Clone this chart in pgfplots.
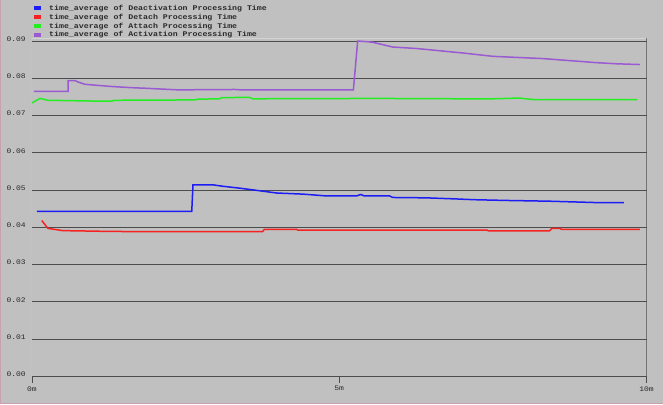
\documentclass[border=0pt]{standalone}
\usepackage{pgfplots}
\pgfplotsset{compat=1.18}
\usepackage{fontspec}
\newfontfamily\legfont[FakeStretch=1.15]{Liberation Mono}
\definecolor{bg}{HTML}{C0C0C0}
\definecolor{gridc}{HTML}{4C4C4C}
\definecolor{txt}{HTML}{2A2A2A}
\definecolor{edge}{HTML}{C8A0B0}
\definecolor{lightframe}{HTML}{D4D4D4}
\definecolor{cdeact}{HTML}{1C1CF5}
\definecolor{cdetach}{HTML}{F52222}
\definecolor{cattach}{HTML}{22EE22}
\definecolor{cact}{HTML}{9A5AD2}
\begin{document}
\begin{tikzpicture}
% page = 663 x 404, axis box 615 x 338
\fill[bg] (-32bp,-28bp) rectangle (631bp,376bp);
\draw[edge, line width=1bp] (-31.5bp,376bp) -- (-31.5bp,-27.5bp) -- (631bp,-27.5bp);
\useasboundingbox (-32bp,-28bp) rectangle (631bp,376bp);
\begin{axis}[
    scale only axis,
    width=615bp, height=338bp,
    xmin=0, xmax=10, ymin=0, ymax=0.0907,
    axis line style={draw=none},
    scaled y ticks=false,
    xtick={0,5,10}, xticklabels={0m,5m,10m},
    xtick pos=lower, tick align=outside, major tick length=7bp,
    x tick style={gridc, line width=0.9bp},
    ytick={0,0.01,0.02,0.03,0.04,0.05,0.06,0.07,0.08,0.09},
    yticklabels={0.00,0.01,0.02,0.03,0.04,0.05,0.06,0.07,0.08,0.09},
    y tick style={draw=none},
    ymajorgrids, major grid style={gridc, line width=0.9bp},
    xticklabel style={font=\legfont\fontsize{7}{8}\selectfont, text=txt, inner sep=3bp},
    yticklabel style={font=\legfont\fontsize{7}{8}\selectfont, text=txt, anchor=east, yshift=2bp, xshift=1bp, inner sep=0pt},
    legend style={at={(rel axis cs:0,1)}, anchor=south west, xshift=2bp, yshift=-0.5bp,
        draw=none, fill=none, inner sep=0pt, row sep=1.5bp,
        font=\legfont\bfseries\fontsize{7.2}{7.5}\selectfont, text=txt,
        nodes={inner sep=0.3bp}},
    legend cell align=left,
    legend image code/.code={\fill[draw=none,#1] (0bp,-2bp) rectangle (6.5bp,2bp);
        \path (14bp,0bp);},
    every axis plot/.append style={line width=1.5bp},
]
\addplot[color=cdeact] coordinates {
(0.08,0.0443) (2.60,0.0443) (2.62,0.0514) (2.94,0.0514) (3.11,0.0510) (3.38,0.0505)
(3.66,0.0499) (3.98,0.0492) (4.41,0.0489) (4.80,0.0484) (5.28,0.0484) (5.35,0.0488)
(5.41,0.0484) (5.82,0.0484) (5.87,0.0480) (6.42,0.0479) (6.91,0.0476) (7.20,0.0474)
(7.72,0.0472) (8.42,0.0470) (9.24,0.0466) (9.63,0.0466)
};
\addlegendentry{time\_average of Deactivation Processing Time}
\addplot[color=cdetach] coordinates {
(0.16,0.0418) (0.26,0.0397) (0.50,0.0391) (1.20,0.0389) (1.90,0.0388) (3.75,0.0388)
(3.78,0.0394) (4.31,0.0394) (4.33,0.0392) (7.41,0.0392) (7.43,0.0390) (8.42,0.0390)
(8.46,0.0397) (8.59,0.0397) (8.62,0.0394) (9.89,0.0394)
};
\addlegendentry{time\_average of Detach Processing Time}
\addplot[color=cattach] coordinates {
(0.00,0.0734) (0.13,0.0746) (0.26,0.0741) (0.98,0.0739) (1.30,0.0739) (1.35,0.0741)
(2.65,0.0742) (2.70,0.0744) (3.05,0.0745) (3.09,0.0748) (3.54,0.0749) (3.59,0.0745)
(5.60,0.0746) (7.00,0.0745) (7.50,0.0745) (7.93,0.0747) (8.15,0.0743) (9.85,0.0743)
};
\addlegendentry{time\_average of Attach Processing Time}
\addplot[color=cact] coordinates {
(0.03,0.0765) (0.59,0.0765) (0.59,0.0794) (0.70,0.0794) (0.75,0.0790) (0.86,0.0784)
(1.00,0.0782) (1.30,0.0778) (1.60,0.0775) (1.89,0.0773) (2.37,0.0769) (3.30,0.0770)
(3.40,0.0769) (5.23,0.0769) (5.30,0.0900) (5.40,0.0899) (5.54,0.0897) (5.87,0.0884)
(6.26,0.0880) (7.01,0.0868) (7.50,0.0859) (8.31,0.0853) (9.19,0.0842) (9.51,0.0839)
(9.89,0.0837)
};
\addlegendentry{time\_average of Activation Processing Time}
% frame: dark bottom/right, light left/top
\draw[lightframe, line width=1bp] (rel axis cs:0,0) -- (rel axis cs:0,1) -- (rel axis cs:1,1);
\draw[gridc, line width=1bp] (rel axis cs:0,0) -- (rel axis cs:1,0) -- (rel axis cs:1,1);
\end{axis}
\end{tikzpicture}
\end{document}
